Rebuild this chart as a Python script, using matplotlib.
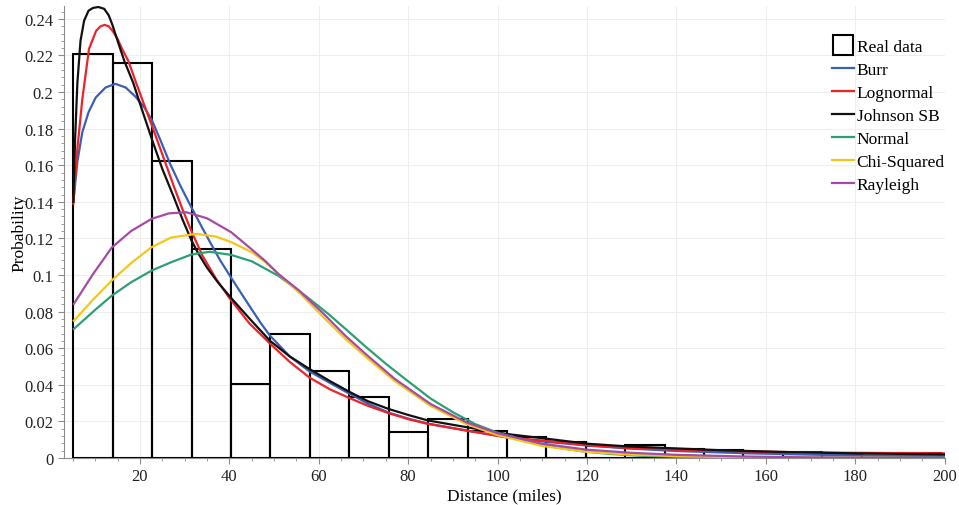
import numpy as np
import matplotlib
matplotlib.use('Agg')
import matplotlib.pyplot as plt
from matplotlib.lines import Line2D
from matplotlib.ticker import MultipleLocator, FuncFormatter

plt.rcParams['font.family'] = ['Liberation Serif', 'DejaVu Serif']

# histogram of observed trip distances (probability per bin)
bin_edges = np.linspace(5.1, 199.1, 23)
real_prob = [0.221, 0.216, 0.1625, 0.114, 0.0404, 0.0676, 0.0477, 0.0335,
             0.0144, 0.0213, 0.0149, 0.0113, 0.0089, 0.0067, 0.0071, 0.0049,
             0.0045, 0.0027, 0.0034, 0.0024, 0.0025, 0.0025]

# fitted curves
burr_x = [5.1, 6.0, 7.1, 8.5, 10.1, 12.3, 14.5, 16.8, 19.0, 21.0, 22.7, 24.7, 26.7,
          29.0, 31.5, 34.0, 36.0, 38.0, 40.4, 42.7, 45.0, 47.0, 49.1, 53.5, 58.0,
          62.5, 66.8, 71.0, 75.6, 80.0, 84.4, 93.1, 102.0, 111.0, 120.0, 129.0,
          140.0, 155.0, 170.0, 185.0, 200.0]
burr_y = [0.14, 0.162, 0.178, 0.189, 0.197, 0.2025, 0.2045, 0.2025, 0.1975, 0.1915,
          0.1845, 0.173, 0.161, 0.149, 0.137, 0.1255, 0.1165, 0.1078, 0.0985, 0.0898,
          0.0812, 0.0738, 0.0668, 0.0555, 0.0472, 0.041, 0.0352, 0.0297, 0.0248,
          0.0215, 0.0188, 0.015, 0.0113, 0.0088, 0.0068, 0.0052, 0.0038, 0.0026,
          0.0018, 0.0013, 0.001]

logn_x = [5.1, 6.0, 7.1, 8.6, 10.2, 11.2, 12.1, 13.0, 14.0, 15.0, 16.0, 17.4, 19.0,
          20.8, 22.7, 25.0, 27.5, 29.5, 31.5, 34.0, 37.0, 40.0, 44.5, 49.1, 53.5,
          58.0, 62.5, 66.8, 71.0, 75.6, 80.0, 84.4, 93.1, 102.0, 111.0, 120.0,
          129.0, 140.0, 155.0, 170.0, 185.0, 200.0]
logn_y = [0.139, 0.169, 0.196, 0.2236, 0.2335, 0.236, 0.2367, 0.236, 0.233, 0.229,
          0.2236, 0.217, 0.206, 0.194, 0.1815, 0.166, 0.149, 0.136, 0.124, 0.1105,
          0.098, 0.0875, 0.0735, 0.0625, 0.0525, 0.0438, 0.0375, 0.0328, 0.0285,
          0.0245, 0.0212, 0.0186, 0.0149, 0.0113, 0.0093, 0.0069, 0.0055, 0.0045,
          0.0036, 0.003, 0.0027, 0.0025]

jsb_x = [5.1, 5.5, 6.0, 6.7, 7.5, 8.5, 9.5, 10.7, 12.0, 13.0, 13.8, 15.0, 16.5, 18.5,
         20.5, 22.7, 25.0, 27.5, 29.5, 31.5, 33.0, 35.0, 37.5, 40.3, 44.5, 49.1, 53.5,
         58.0, 62.5, 66.8, 71.0, 75.6, 80.0, 84.4, 93.1, 102.0, 111.0, 120.0, 129.0,
         137.0, 150.0, 165.0, 180.0, 200.0]
jsb_y = [0.14, 0.175, 0.205, 0.228, 0.239, 0.2445, 0.246, 0.2465, 0.2455, 0.242,
         0.237, 0.228, 0.217, 0.205, 0.19, 0.174, 0.158, 0.143, 0.1305, 0.119, 0.112,
         0.104, 0.0958, 0.0877, 0.0762, 0.064, 0.0555, 0.0485, 0.042, 0.0362, 0.031,
         0.0268, 0.0235, 0.0205, 0.0168, 0.0131, 0.0105, 0.0078, 0.0063, 0.0055,
         0.0042, 0.0032, 0.0025, 0.0019]

norm_x = [5.2, 10.0, 13.7, 18.0, 22.6, 27.0, 31.5, 35.6, 40.4, 45.0, 51.0, 57.0, 62.0,
          66.0, 70.4, 75.0, 79.3, 85.0, 90.0, 95.0, 100.0, 107.4, 113.0, 119.0, 125.0,
          132.0, 140.0, 150.0, 165.0, 200.0]
norm_y = [0.0705, 0.081, 0.0887, 0.096, 0.1024, 0.107, 0.1112, 0.1127, 0.111, 0.1075,
          0.0995, 0.0887, 0.079, 0.0705, 0.061, 0.0515, 0.0432, 0.0325, 0.025, 0.0185,
          0.0138, 0.0085, 0.0058, 0.0036, 0.0022, 0.0012, 0.0006, 0.0002, 0.0001, 0.0]

chi_x = [5.2, 9.5, 13.7, 18.0, 22.6, 27.0, 32.6, 37.0, 40.4, 45.0, 48.1, 51.9, 56.0,
         61.0, 66.0, 70.4, 77.0, 85.0, 93.0, 100.0, 110.0, 120.0, 130.0, 140.0, 155.0,
         170.0, 200.0]
chi_y = [0.075, 0.0865, 0.097, 0.1065, 0.1152, 0.1205, 0.1225, 0.121, 0.118, 0.1125,
         0.107, 0.0985, 0.0895, 0.077, 0.065, 0.0555, 0.042, 0.0285, 0.0185, 0.0125,
         0.0065, 0.0033, 0.0018, 0.001, 0.0004, 0.0001, 0.0]

ray_x = [5.2, 9.5, 13.7, 18.0, 22.6, 26.5, 30.4, 35.0, 40.4, 45.0, 48.1, 51.0, 55.6,
         61.0, 65.9, 70.4, 77.0, 85.0, 93.0, 100.0, 110.0, 120.0, 130.0, 140.0, 155.0,
         170.0, 200.0]
ray_y = [0.0842, 0.1005, 0.115, 0.124, 0.1307, 0.1337, 0.1343, 0.131, 0.1234, 0.114,
         0.1075, 0.1005, 0.0915, 0.079, 0.0669, 0.057, 0.0432, 0.0295, 0.0195, 0.0135,
         0.0078, 0.0045, 0.0028, 0.0017, 0.0008, 0.0003, 0.0]

curves = [
    ('Burr', burr_x, burr_y, '#3a5fb4'),
    ('Lognormal', logn_x, logn_y, '#ee2329'),
    ('Johnson SB', jsb_x, jsb_y, '#111111'),
    ('Normal', norm_x, norm_y, '#2e9f72'),
    ('Chi-Squared', chi_x, chi_y, '#f5c61a'),
    ('Rayleigh', ray_x, ray_y, '#a54aa5'),
]

fig = plt.figure(figsize=(9.59, 5.06), dpi=100)
ax = fig.add_axes([0.0667, 0.093, 0.9183, 0.893])

ax.grid(True, color='#eeeeee', linewidth=0.8)
ax.set_axisbelow(True)

ax.bar(bin_edges[:-1], real_prob, width=np.diff(bin_edges), align='edge',
       fill=False, edgecolor='black', linewidth=1.5, zorder=2)

for name, xs, ys, col in curves:
    ax.plot(xs, ys, color=col, linewidth=1.6, zorder=3)

ax.set_xlim(3.0, 200)
ax.set_ylim(0, 0.247)
ax.xaxis.set_major_locator(MultipleLocator(20))
ax.xaxis.set_minor_locator(MultipleLocator(5))
ax.yaxis.set_major_locator(MultipleLocator(0.02))
ax.yaxis.set_minor_locator(MultipleLocator(0.004))
ax.yaxis.set_major_formatter(FuncFormatter(lambda v, p: '{:g}'.format(round(v, 3))))

for s in ['top', 'right']:
    ax.spines[s].set_visible(False)
for s in ['left', 'bottom']:
    ax.spines[s].set_color('#8c8c8c')
ax.tick_params(which='both', colors='#8c8c8c', labelcolor='#222222', labelsize=12)
ax.tick_params(which='major', length=4)
ax.tick_params(which='minor', length=2)

ax.set_xlabel('Distance (miles)', fontsize=12.5, labelpad=2)
ax.set_ylabel('Probability', fontsize=12.5, labelpad=-2)

handles = [Line2D([], [], linestyle='none', marker='s', markersize=14,
                  markerfacecolor='white', markeredgecolor='black', markeredgewidth=1.5)]
labels = ['Real data']
for name, xs, ys, col in curves:
    handles.append(Line2D([], [], color=col, linewidth=1.6))
    labels.append(name)
ax.legend(handles, labels, loc='upper left', bbox_to_anchor=(0.858, 0.939),
          bbox_transform=fig.transFigure, frameon=False, fontsize=12.5,
          handlelength=1.3, handletextpad=0.15, labelspacing=0.4, borderpad=0)

plt.savefig('out.png', dpi=100)
